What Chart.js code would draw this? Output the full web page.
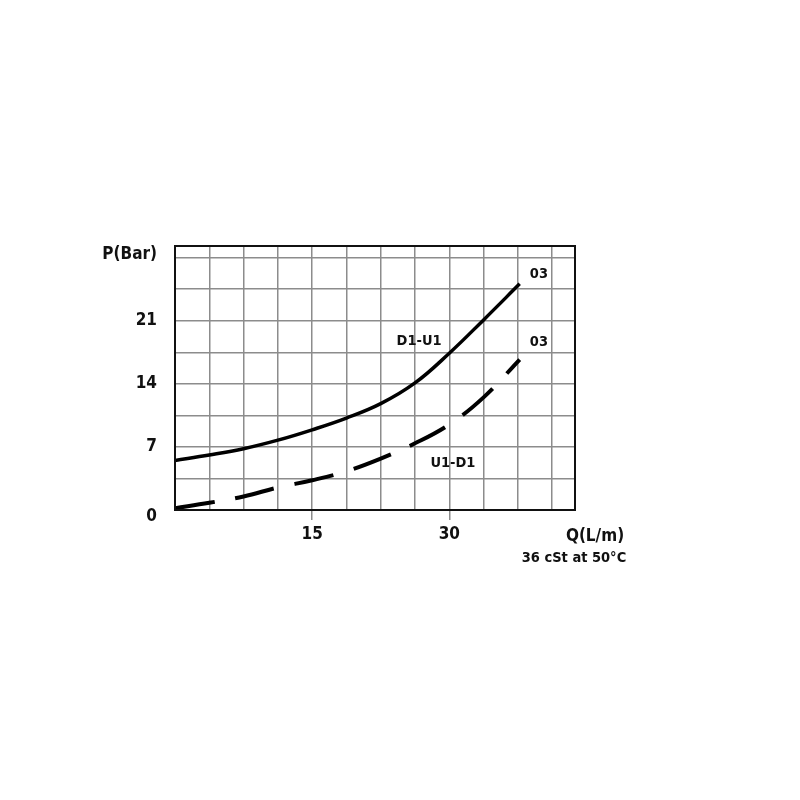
<!DOCTYPE html>
<html>
<head>
<meta charset="utf-8">
<title>P-Q curve</title>
<script src="https://cdn.jsdelivr.net/npm/chart.js@4.4.1/dist/chart.umd.min.js"></script>
<style>
  html, body { margin: 0; padding: 0; background: #fff; }
  #wrap { width: 800px; height: 800px; }
</style>
</head>
<body>
<div id="wrap"><canvas id="chart" width="800" height="800"></canvas></div>
<script>
// flow (L/m) at each grid column
const flow = [0, 3.75, 7.5, 11.25, 15, 18.75, 22.5, 26.25, 30, 33.75, 37.7];
// pressure drop (bar)
const d1u1 = [5.5, 6.1, 6.8, 7.75, 8.9, 10.2, 11.8, 14.1, 17.4, 21.1, 25.1];
const u1d1 = [0.2, 0.8, 1.5, 2.5, 3.3, 4.3, 5.7, 7.4, 9.5, 12.5, 16.7];

const xLabels = [15, 30];
const yLabels = [7, 14, 21];
const xMax = 43.75, xStep = 3.75;
const yMax = 29.3, yStep = 3.5;

// curve labels: [text, flow, pressure]
const notes = [
  ['D1-U1', 26.7, 18.7],
  ['03', 39.8, 26.2],
  ['03', 39.8, 18.6],
  ['U1-D1', 30.4, 5.2]
];

const FONT = "'DejaVu Sans Condensed', 'DejaVu Sans', sans-serif";
const GRID = '#8c8c8c';

const has = (arr, v) => arr.some(a => Math.abs(a - v) < 1e-6);

const extras = {
  id: 'extras',
  afterDraw(chart) {
    const { ctx, chartArea: a, scales: { x, y } } = chart;
    ctx.save();
    // frame
    ctx.strokeStyle = '#111';
    ctx.lineWidth = 2;
    ctx.strokeRect(a.left, a.top, a.right - a.left, a.bottom - a.top);

    ctx.fillStyle = '#111';
    ctx.font = 'bold 14.5px ' + FONT;
    ctx.textAlign = 'center';
    ctx.textBaseline = 'middle';
    notes.forEach(([t, q, p]) => ctx.fillText(t, x.getPixelForValue(q), y.getPixelForValue(p)));

    ctx.font = 'bold 17px ' + FONT;
    ctx.textAlign = 'right';
    ctx.fillText('P(Bar)', 157, a.top + 9);
    ctx.fillText('0', 157, y.getPixelForValue(0) + 7);
    ctx.textAlign = 'center';
    ctx.fillText('Q(L/m)', 595, 537);
    ctx.font = 'bold 14.5px ' + FONT;
    ctx.fillText('36 cSt at 50\u00b0C', 574, 558);
    ctx.restore();
  }
};

new Chart(document.getElementById('chart'), {
  type: 'line',
  data: {
    datasets: [
      {
        label: 'D1-U1',
        data: flow.map((q, i) => ({ x: q, y: d1u1[i] })),
        borderColor: '#000',
        borderWidth: 3.5,
        pointRadius: 0,
        tension: 0.4,
        fill: false
      },
      {
        label: 'U1-D1',
        data: flow.map((q, i) => ({ x: q, y: u1d1[i] })),
        borderColor: '#000',
        borderWidth: 4,
        borderDash: [40, 21],
        borderCapStyle: 'butt',
        pointRadius: 0,
        tension: 0.4,
        fill: false
      }
    ]
  },
  options: {
    responsive: false,
    animation: false,
    layout: { padding: { top: 246, right: 225, left: 0, bottom: 0 } },
    plugins: { legend: { display: false }, tooltip: { enabled: false } },
    scales: {
      x: {
        type: 'linear',
        min: 0,
        max: xMax,
        afterFit: s => { s.height = 290; },
        border: { display: true, color: '#111', width: 2 },
        grid: {
          color: GRID,
          lineWidth: 1.5,
          drawTicks: true,
          tickLength: 10,
          tickColor: c => (c.tick && has(xLabels, c.tick.value)) ? GRID : 'rgba(0,0,0,0)'
        },
        ticks: {
          stepSize: xStep,
          includeBounds: false,
          autoSkip: false,
          maxRotation: 0,
          padding: 4,
          color: '#111',
          font: { family: FONT, size: 17, weight: 'bold' },
          callback: v => has(xLabels, v) ? String(v) : ''
        }
      },
      y: {
        min: 0,
        max: yMax,
        afterFit: s => { s.width = 175; },
        border: { display: true, color: '#111', width: 2 },
        grid: { color: GRID, lineWidth: 1.5, drawTicks: false },
        ticks: {
          stepSize: yStep,
          includeBounds: false,
          autoSkip: false,
          padding: 18,
          color: '#111',
          font: { family: FONT, size: 17, weight: 'bold' },
          callback: v => has(yLabels, v) ? String(v) : ''
        }
      }
    }
  },
  plugins: [extras]
});
</script>
</body>
</html>
